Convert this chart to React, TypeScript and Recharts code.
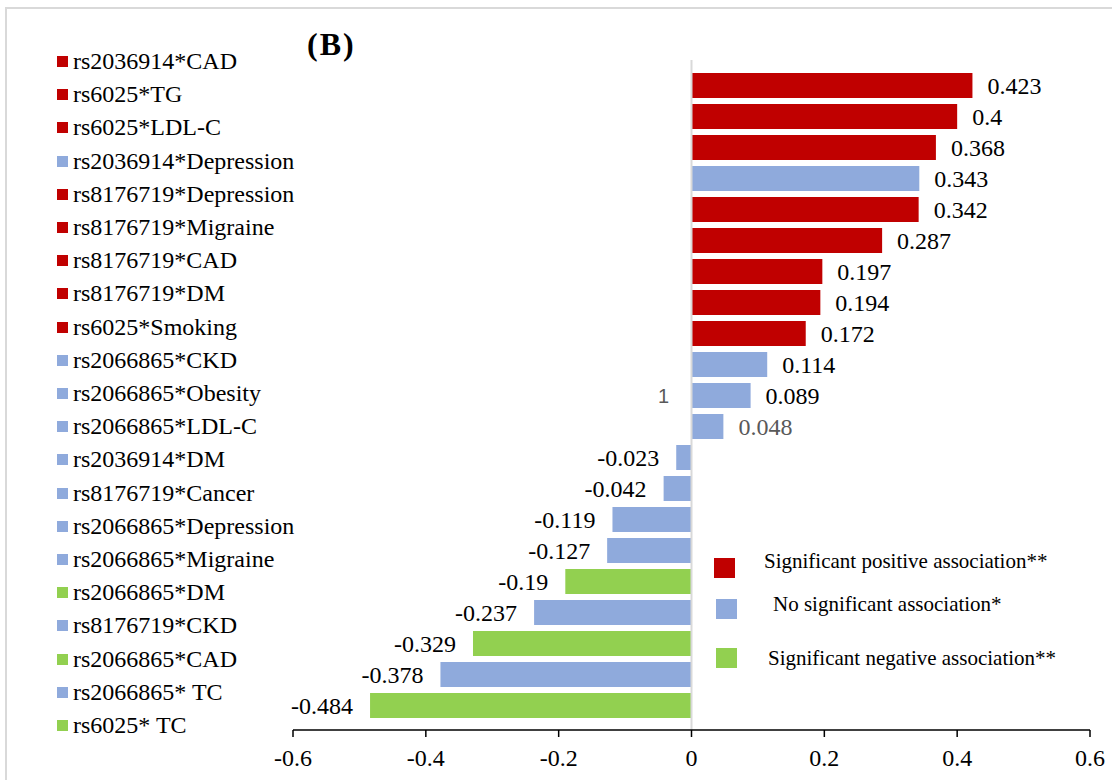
import { BarChart, Bar, XAxis, YAxis, Cell, LabelList, Legend, ReferenceLine } from "recharts";

const categories = [
  "rs2036914*CAD",
  "rs6025*TG",
  "rs6025*LDL-C",
  "rs2036914*Depression",
  "rs8176719*Depression",
  "rs8176719*Migraine",
  "rs8176719*CAD",
  "rs8176719*DM",
  "rs6025*Smoking",
  "rs2066865*CKD",
  "rs2066865*Obesity",
  "rs2066865*LDL-C",
  "rs2036914*DM",
  "rs8176719*Cancer",
  "rs2066865*Depression",
  "rs2066865*Migraine",
  "rs2066865*DM",
  "rs8176719*CKD",
  "rs2066865*CAD",
  "rs2066865* TC",
  "rs6025* TC",
];

const values = [
  0.423, 0.4, 0.368, 0.343, 0.342, 0.287, 0.197, 0.194, 0.172, 0.114, 0.089,
  0.048, -0.023, -0.042, -0.119, -0.127, -0.19, -0.237, -0.329, -0.378, -0.484,
];

const groups = [
  "pos", "pos", "pos", "none", "pos", "pos", "pos", "pos", "pos", "none", "none",
  "none", "none", "none", "none", "none", "neg", "none", "neg", "none", "neg",
];

const xTicks = [-0.6, -0.4, -0.2, 0, 0.2, 0.4, 0.6];

const keyLabels = [
  "Significant positive association**",
  "No significant association*",
  "Significant negative association**",
];
const keyGroups = ["pos", "none", "neg"];

const colors: Record<string, string> = {
  pos: "#C00000",
  none: "#8FAADC",
  neg: "#92D050",
};

const serif = "'Liberation Serif', 'Times New Roman', serif";

const data = categories.map((name, i) => ({ name, value: values[i], group: groups[i] }));

function ValueLabel(props: any) {
  const { x, y, width, height, value, index } = props;
  const end = value >= 0 ? Math.max(x, x + width) : Math.min(x, x + width);
  const zero = value >= 0 ? Math.min(x, x + width) : Math.max(x, x + width);
  const cy = y + height / 2;
  const grey = index === 11;
  return (
    <g>
      <text
        x={value >= 0 ? end + 15 : end - 17}
        y={cy}
        textAnchor={value >= 0 ? "start" : "end"}
        dominantBaseline="central"
        fontFamily={serif}
        fontSize={24}
        fill={grey ? "#595959" : "#000"}
      >
        {String(value)}
      </text>
      {index === 10 && (
        <text
          x={zero - 28}
          y={cy}
          textAnchor="middle"
          dominantBaseline="central"
          fontFamily="'Liberation Sans', Arial, sans-serif"
          fontSize={20}
          fill="#595959"
        >
          1
        </text>
      )}
    </g>
  );
}

const keyPos = [
  { sq: [14, 18], tx: [64, 21] },
  { sq: [16, 59], tx: [73, 64] },
  { sq: [16, 108], tx: [68, 118] },
];

function SignificanceKey() {
  return (
    <div style={{ position: "relative", width: 400, height: 140 }}>
      {keyLabels.map((label, i) => (
        <div key={label}>
          <div
            style={{
              position: "absolute",
              left: keyPos[i].sq[0],
              top: keyPos[i].sq[1],
              width: 21,
              height: 20,
              background: colors[keyGroups[i]],
            }}
          />
          <div
            style={{
              position: "absolute",
              left: keyPos[i].tx[0],
              top: keyPos[i].tx[1] - 11,
              fontFamily: serif,
              fontSize: 21,
              lineHeight: "22px",
              color: "#000",
              whiteSpace: "nowrap",
            }}
          >
            {label}
          </div>
        </div>
      ))}
    </div>
  );
}

export default function App() {
  return (
    <div
      style={{
        position: "absolute",
        left: 0,
        top: 0,
        width: 1112,
        height: 780,
        overflow: "hidden",
        background: "#fff",
      }}
    >
      <div
        style={{
          position: "absolute",
          left: 5,
          top: 7,
          width: 1200,
          height: 900,
          border: "2px solid #d9d9d9",
        }}
      />
      <div
        style={{
          position: "absolute",
          left: 307,
          top: 45 - 19,
          fontFamily: serif,
          fontWeight: "bold",
          fontSize: 32,
          lineHeight: "36px",
          letterSpacing: 2,
        }}
      >
        (B)
      </div>
      {categories.map((name, i) => {
        const cy = 61 + i * 33.2;
        return (
          <div key={name}>
            <div
              style={{
                position: "absolute",
                left: 57,
                top: cy - 5,
                width: 11,
                height: 11,
                background: colors[groups[i]],
              }}
            />
            <div
              style={{
                position: "absolute",
                left: 73,
                top: cy - 12,
                fontFamily: serif,
                fontSize: 24,
                lineHeight: "24px",
                whiteSpace: "nowrap",
              }}
            >
              {name}
            </div>
          </div>
        );
      })}
      <div style={{ position: "absolute", left: 0, top: 0 }}>
        <BarChart
          layout="vertical"
          width={1112}
          height={780}
          data={data}
          margin={{ top: 60, right: 22, bottom: 20, left: 293 }}
        >
          <XAxis
            type="number"
            domain={[-0.6, 0.6]}
            ticks={xTicks}
            height={30}
            axisLine={{ stroke: "#000", strokeWidth: 1.5 }}
            tickLine={{ stroke: "#000", strokeWidth: 1.5 }}
            tickSize={7}
            tickMargin={12}
            tick={{ fill: "#000", fontSize: 24, fontFamily: serif }}
            tickFormatter={(v) => String(v)}
          />
          <YAxis type="category" dataKey="name" hide padding={{ top: 10, bottom: 9 }} />
          <ReferenceLine x={0} stroke="#d9d9d9" strokeWidth={2} />
          <Bar dataKey="value" barSize={25} isAnimationActive={false}>
            {data.map((d) => (
              <Cell key={d.name} fill={colors[d.group]} />
            ))}
            <LabelList dataKey="value" content={ValueLabel} />
          </Bar>
          <Legend
            layout="horizontal"
            verticalAlign="middle"
            align="center"
            wrapperStyle={{ left: 700, top: 540, width: 400 }}
            content={() => <SignificanceKey />}
          />
        </BarChart>
      </div>
    </div>
  );
}
